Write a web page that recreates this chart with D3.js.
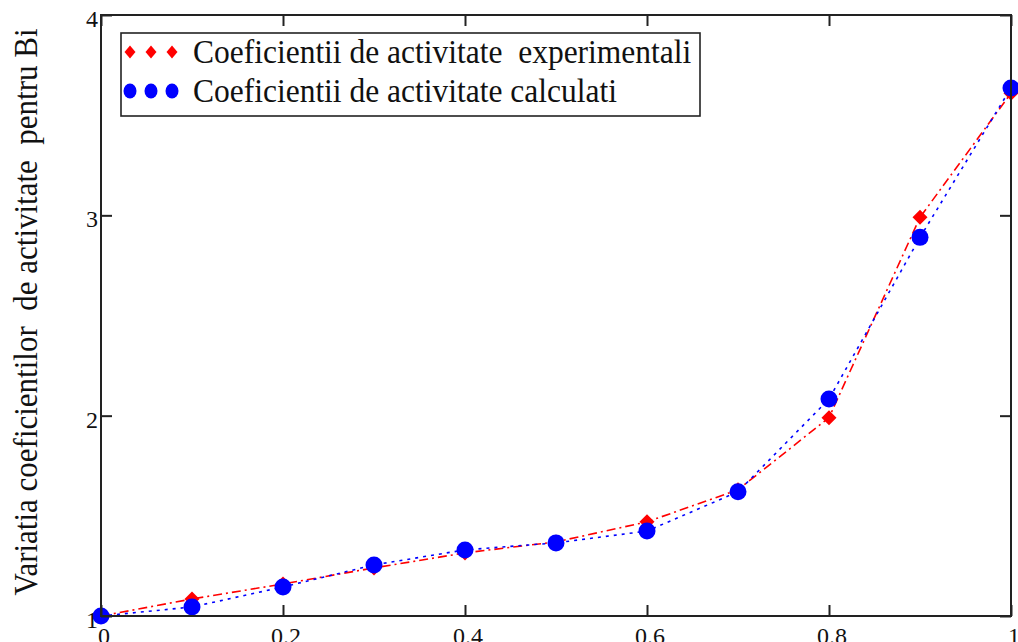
<!DOCTYPE html>
<html><head><meta charset="utf-8">
<script src="https://cdn.jsdelivr.net/npm/d3@7"></script>
<style>
html,body{margin:0;padding:0;background:#fff;overflow:hidden}
text{font-family:"Liberation Serif","Times New Roman",serif;fill:#111;white-space:pre}
</style></head>
<body><svg id="c" width="1018" height="642"></svg>
<script>
const xValues = [0, 0.1, 0.2, 0.3, 0.4, 0.5, 0.6, 0.7, 0.8, 0.9, 1.0];
const experimental = [1.0, 1.085, 1.16, 1.24, 1.315, 1.37, 1.47, 1.63, 1.99, 2.99, 3.61];
const calculated = [1.0, 1.045, 1.145, 1.255, 1.33, 1.365, 1.424, 1.62, 2.083, 2.89, 3.636];
const xTicks = [0, 0.2, 0.4, 0.6, 0.8, 1];
const xTickLabels = ["0", "0.2", "0.4", "0.6", "0.8", "1"];
const yTicks = [1, 2, 3, 4];
const yTickLabels = ["1", "2", "3", "4"];
const legendLabels = ["Coeficientii de activitate  experimentali", "Coeficientii de activitate calculati"];
const yTitle = "Variatia coeficientilor  de activitate  pentru Bi";

const svg = d3.select("#c");
const L = 101, R = 1011, T = 15, B = 616;
const x = d3.scaleLinear().domain([0, 1]).range([L, R]);
const y = d3.scaleLinear().domain([1, 4]).range([B, T]);

const plot = svg.append("g");

const lineGen = d3.line().x((d,i)=>x(xValues[i])).y(d=>y(d)).curve(d3.curveLinear);

plot.append("path").datum(experimental).attr("d", lineGen)
  .attr("fill","none").attr("stroke","#ff0000").attr("stroke-width",1.6)
  .attr("stroke-dasharray","9 4 2 4");
plot.append("path").datum(calculated).attr("d", lineGen)
  .attr("fill","none").attr("stroke","#0000ff").attr("stroke-width",1.6)
  .attr("stroke-dasharray","3 5");

const diamond = (cx, cy, w, h) => `M${cx},${cy-h}L${cx+w},${cy}L${cx},${cy+h}L${cx-w},${cy}Z`;

plot.selectAll(".exp").data(experimental).enter().append("path")
  .attr("d", (d,i)=>diamond(x(xValues[i]), y(d), 7.5, 7.5))
  .attr("fill","#ff0000");
plot.selectAll(".calc").data(calculated).enter().append("ellipse")
  .attr("cx",(d,i)=>x(xValues[i])).attr("cy",d=>y(d)).attr("rx",8.5).attr("ry",8.5)
  .attr("fill","#0000ff");

// axes box
svg.append("rect").attr("x",L).attr("y",T).attr("width",R-L).attr("height",B-T)
  .attr("fill","none").attr("stroke","#222").attr("stroke-width",2);

const tl = 11;
svg.append("g").attr("transform",`translate(0,${B})`).call(d3.axisTop(x).tickValues(xTicks).tickSize(tl).tickFormat(""));
svg.append("g").attr("transform",`translate(0,${T})`).call(d3.axisBottom(x).tickValues(xTicks).tickSize(tl).tickFormat(""));
svg.append("g").attr("transform",`translate(${L},0)`).call(d3.axisRight(y).tickValues(yTicks).tickSize(tl).tickFormat(""));
svg.append("g").attr("transform",`translate(${R},0)`).call(d3.axisLeft(y).tickValues(yTicks).tickSize(tl).tickFormat(""));
svg.selectAll(".domain").remove();
svg.selectAll(".tick line").attr("stroke","#222").attr("stroke-width",2);

// tick labels
svg.append("g").selectAll("text").data(xTicks).enter().append("text")
  .attr("x", d=>x(d)+3).attr("y", 644).attr("text-anchor","middle")
  .attr("font-size",24).text((d,i)=>xTickLabels[i]);
svg.append("g").selectAll("text").data(yTicks).enter().append("text")
  .attr("x", 98).attr("y", d=>y(d)+12).attr("text-anchor","end")
  .attr("font-size",24).text((d,i)=>yTickLabels[i]);

// y title
svg.append("text").attr("transform",`translate(37,312) rotate(-90) scale(1,1.12)`)
  .attr("text-anchor","middle").attr("font-size",31).text(yTitle);

// legend
const lg = svg.append("g");
lg.append("rect").attr("x",121).attr("y",33).attr("width",579).attr("height",83)
  .attr("fill","#fff").attr("stroke","#222").attr("stroke-width",1.6);
const rowY = [52, 91];
const mx = [130, 151, 172];
mx.forEach(m=>{
  lg.append("path").attr("d", diamond(m, rowY[0], 5.5, 6.5)).attr("fill","#ff0000");
  lg.append("ellipse").attr("cx",m).attr("cy",rowY[1]).attr("rx",6.5).attr("ry",7.5).attr("fill","#0000ff");
});
legendLabels.forEach((t,i)=>{
  lg.append("text").attr("transform",`translate(193,${rowY[i]+11}) scale(1,1.08)`)
    .attr("font-size",31.5).text(t);
});
</script></body></html>
